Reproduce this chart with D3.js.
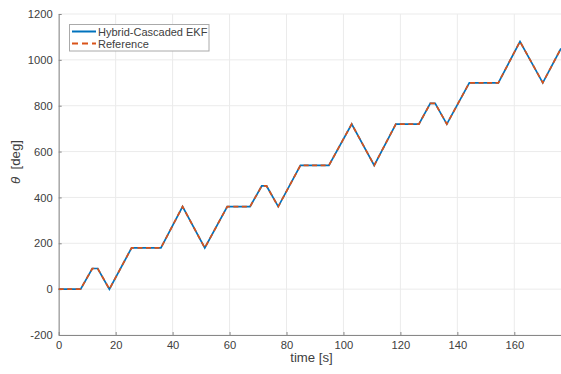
<!DOCTYPE html>
<html><head><meta charset="utf-8">
<script src="https://cdn.jsdelivr.net/npm/d3@7"></script>
<style>body{margin:0;background:#fff}svg{display:block}</style>
</head><body>
<script>
const times = [0, 7.7, 11.8, 13.7, 17.8, 25.6, 35.9, 43.5, 51.3, 59.2, 67.2, 71.3, 73.0, 77.1, 84.9, 94.9, 102.9, 110.8, 118.4, 126.5, 130.5, 132.2, 136.3, 144.2, 154.4, 162.0, 170.0, 176.4];
const ekfTheta = [0, 0, 90, 90, 0, 180, 180, 360, 180, 360, 360, 450, 450, 360, 540, 540, 720, 540, 720, 720, 810, 810, 720, 900, 900, 1080, 900, 1050];
const refTheta = [0, 0, 90, 90, 0, 180, 180, 360, 180, 360, 360, 450, 450, 360, 540, 540, 720, 540, 720, 720, 810, 810, 720, 900, 900, 1080, 900, 1050];
const xTicks = [0, 20, 40, 60, 80, 100, 120, 140, 160];
const yTicks = [-200, 0, 200, 400, 600, 800, 1000, 1200];
const seriesNames = ["Hybrid-Cascaded EKF", "Reference"];

const W = 561, H = 374;
const m = {left: 58.7, right: 561, top: 14, bottom: 335};
const svg = d3.select("body").append("svg").attr("width", W).attr("height", H);
const font = "Liberation Sans, Arial, sans-serif";
const txt = "#404040";
const x = d3.scaleLinear().domain([0, 176.4]).range([m.left, m.right]);
const y = d3.scaleLinear().domain([-200, 1200]).range([m.bottom, m.top]);

// grid
svg.append("g").selectAll("line").data(xTicks).join("line")
  .attr("x1", d => x(d)).attr("x2", d => x(d)).attr("y1", m.top).attr("y2", m.bottom)
  .attr("stroke", "#ebebeb").attr("stroke-width", 1);
svg.append("g").selectAll("line").data(yTicks).join("line")
  .attr("x1", m.left).attr("x2", m.right).attr("y1", d => y(d)).attr("y2", d => y(d))
  .attr("stroke", "#ebebeb").attr("stroke-width", 1);

// axes
const fmt = d => String(d);
const xAxis = d3.axisBottom(x).tickValues(xTicks).tickFormat(fmt).tickSizeInner(-3).tickSizeOuter(0).tickPadding(6);
const gx = svg.append("g").attr("transform", `translate(0,${m.bottom})`).call(xAxis);
const yAxis = d3.axisLeft(y).tickValues(yTicks).tickFormat(fmt).tickSizeInner(-3).tickSizeOuter(0).tickPadding(6);
const gy = svg.append("g").attr("transform", `translate(${m.left},0)`).call(yAxis);
[gx, gy].forEach(g => {
  g.select(".domain").attr("stroke", "#888").attr("stroke-width", 1);
  g.selectAll(".tick line").attr("stroke", "#888");
  g.selectAll(".tick text").attr("fill", txt).style("font-family", font).style("font-size", "11.2px");
});

// lines
const line = d3.line().x((d, i) => x(times[i])).y(d => y(d));
svg.append("path").datum(ekfTheta).attr("d", line).attr("fill", "none")
  .attr("stroke", "#0072BD").attr("stroke-width", 1.7);
svg.append("path").datum(refTheta).attr("d", line).attr("fill", "none")
  .attr("stroke", "#D95319").attr("stroke-width", 1.7).attr("stroke-dasharray", "5,3.5");

// labels
svg.append("text").attr("x", 311.5).attr("y", 362).attr("text-anchor", "middle")
  .attr("fill", txt).style("font-family", font).style("font-size", "13.2px").text("time [s]");
const yl = svg.append("text").attr("transform", `translate(20,162) rotate(-90)`)
  .attr("text-anchor", "middle").attr("fill", txt).style("font-family", font).style("font-size", "13.2px");
yl.append("tspan").style("font-style", "italic").text("θ");
yl.append("tspan").attr("xml:space", "preserve").text("  [deg]");

// legend
const lg = svg.append("g");
lg.append("rect").attr("x", 69.5).attr("y", 24.5).attr("width", 139.5).attr("height", 26.5)
  .attr("fill", "#fff").attr("stroke", "#aaa").attr("stroke-width", 1);
const legColors = ["#0072BD", "#D95319"];
const legDash = [null, "6,4"];
seriesNames.forEach((n, i) => {
  const yy = 31.5 + i * 12;
  lg.append("line").attr("x1", 72).attr("x2", 96).attr("y1", yy).attr("y2", yy)
    .attr("stroke", legColors[i]).attr("stroke-width", 2).attr("stroke-dasharray", legDash[i]);
  lg.append("text").attr("x", 98).attr("y", yy + 4).attr("fill", txt)
    .style("font-family", font).style("font-size", "11px").text(n);
});
</script>
</body></html>
